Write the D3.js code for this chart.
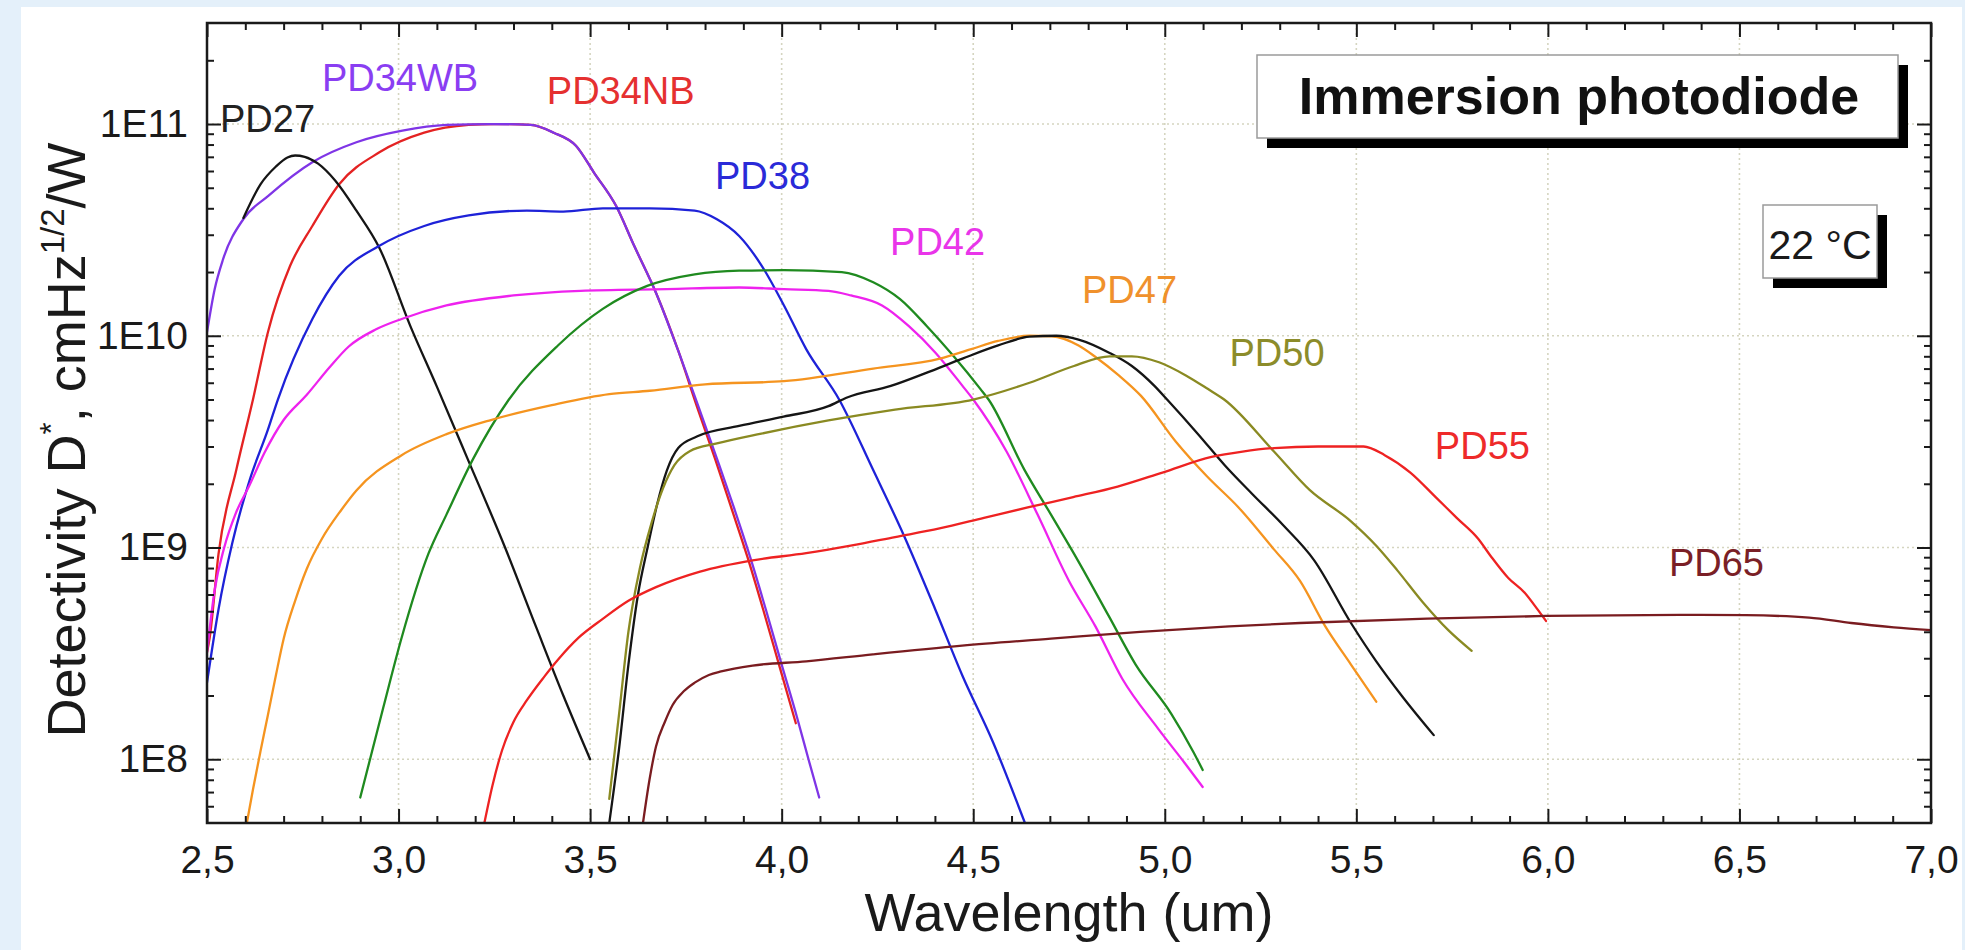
<!DOCTYPE html>
<html><head><meta charset="utf-8">
<script src="https://cdn.jsdelivr.net/npm/d3@7"></script>
<style>
html,body{margin:0;padding:0;background:#e4f0fa;}
svg{display:block;}
text{font-family:"Liberation Sans",Arial,Helvetica,sans-serif;}
</style></head><body>
<svg id="chart" width="1965" height="950"></svg>
<script>
// ---------------- DATA ----------------
const xTickValues = [2.5, 3.0, 3.5, 4.0, 4.5, 5.0, 5.5, 6.0, 6.5, 7.0];
const xTickLabels = ["2,5","3,0","3,5","4,0","4,5","5,0","5,5","6,0","6,5","7,0"];
const yTickValues = [1e8, 1e9, 1e10, 1e11];
const yTickLabels = ["1E8","1E9","1E10","1E11"];
const xDomain = [2.5, 7.0];
const yDomain = [5e7, 3e11];

// [wavelength um, D* cmHz^1/2/W]
const pd27 = [[2.595,3.6e10],[2.64,5.2e10],[2.68,6.3e10],[2.71,6.95e10],[2.73,7.1e10],[2.755,7.0e10],[2.79,6.5e10],[2.835,5.4e10],[2.89,3.9e10],[2.95,2.6e10],[3.03,1.12e10],[3.10,5.75e9],[3.18,2.63e9],[3.278,1.0e9],[3.36,4.17e8],[3.43,2.0e8],[3.50,1.0e8]];
const pd34wb = [[2.50,1.04e10],[2.52,1.66e10],[2.542,2.3e10],[2.595,3.56e10],[2.66,4.58e10],[2.775,6.6e10],[2.89,8.2e10],[3.01,9.3e10],[3.125,9.9e10],[3.24,1.0e11],[3.345,9.9e10],[3.405,9.1e10],[3.463,7.9e10],[3.51,5.9e10],[3.568,4.1e10],[3.615,2.66e10],[3.673,1.58e10],[3.73,8.5e9],[3.784,4.57e9],[3.831,2.63e9],[3.875,1.55e9],[3.917,9.1e8],[3.96,5.0e8],[4.0,2.8e8],[4.04,1.58e8],[4.07,1.0e8],[4.098,6.6e7]];
const pd34nb = [[2.50,3.2e8],[2.507,3.75e8],[2.53,9.3e8],[2.577,2.35e9],[2.62,5.0e9],[2.659,1.04e10],[2.717,2.14e10],[2.775,3.3e10],[2.845,5.2e10],[2.95,7.35e10],[3.067,9.1e10],[3.183,9.9e10],[3.25,1.0e11],[3.345,9.9e10],[3.405,9.1e10],[3.463,7.9e10],[3.51,5.9e10],[3.568,4.1e10],[3.615,2.66e10],[3.673,1.58e10],[3.73,8.5e9],[3.78,4.57e9],[3.826,2.63e9],[3.868,1.55e9],[3.91,9.1e8],[3.953,5.0e8],[3.993,2.8e8],[4.037,1.48e8]];
const pd38 = [[2.50,2.3e8],[2.53,5.1e8],[2.566,1.05e9],[2.612,2.1e9],[2.659,3.6e9],[2.685,5.0e9],[2.775,1.2e10],[2.845,1.92e10],[2.95,2.66e10],[3.067,3.3e10],[3.183,3.7e10],[3.335,3.9e10],[3.43,3.86e10],[3.533,4.0e10],[3.656,4.0e10],[3.773,3.9e10],[3.831,3.55e10],[3.889,2.96e10],[3.948,2.14e10],[4.006,1.39e10],[4.064,8.65e9],[4.15,5.0e9],[4.238,2.34e9],[4.319,1.14e9],[4.401,5.1e8],[4.471,2.5e8],[4.552,1.2e8],[4.635,5.0e7]];
const pd42 = [[2.50,3.2e8],[2.52,6.3e8],[2.545,1.0e9],[2.575,1.45e9],[2.61,1.95e9],[2.65,2.8e9],[2.70,4.0e9],[2.76,5.25e9],[2.82,7.1e9],[2.87,8.9e9],[2.94,1.07e10],[3.008,1.2e10],[3.125,1.39e10],[3.30,1.55e10],[3.475,1.63e10],[3.70,1.66e10],[3.889,1.69e10],[4.006,1.66e10],[4.122,1.63e10],[4.181,1.55e10],[4.262,1.39e10],[4.332,1.11e10],[4.402,8.3e9],[4.472,5.8e9],[4.50,5.0e9],[4.587,2.84e9],[4.668,1.43e9],[4.75,6.95e8],[4.819,4.24e8],[4.889,2.4e8],[4.982,1.4e8],[5.052,9.6e7],[5.099,7.4e7]];
const pdGreen = [[2.90,6.6e7],[2.96,1.75e8],[3.008,3.75e8],[3.078,9.35e8],[3.125,1.43e9],[3.195,2.63e9],[3.288,5.0e9],[3.416,9.0e9],[3.533,1.34e10],[3.649,1.72e10],[3.773,1.95e10],[3.889,2.03e10],[4.006,2.04e10],[4.157,2.0e10],[4.239,1.79e10],[4.309,1.49e10],[4.379,1.11e10],[4.449,8.0e9],[4.519,5.6e9],[4.54,5.0e9],[4.633,2.34e9],[4.703,1.43e9],[4.773,8.7e8],[4.854,4.74e8],[4.924,2.8e8],[5.017,1.64e8],[5.075,1.08e8],[5.099,8.9e7]];
const pd47 = [[2.604,5.0e7],[2.62,7.2e7],[2.64,1.1e8],[2.659,1.62e8],[2.68,2.5e8],[2.70,3.7e8],[2.73,5.6e8],[2.76,7.9e8],[2.80,1.1e9],[2.85,1.5e9],[2.89,1.86e9],[3.008,2.73e9],[3.125,3.43e9],[3.241,4.0e9],[3.40,4.7e9],[3.55,5.3e9],[3.656,5.5e9],[3.80,5.9e9],[4.006,6.1e9],[4.239,7.0e9],[4.413,7.8e9],[4.495,8.65e9],[4.565,9.45e9],[4.647,1.0e10],[4.705,9.95e9],[4.775,9.0e9],[4.821,7.9e9],[4.88,6.5e9],[4.938,5.2e9],[5.029,3.16e9],[5.11,2.17e9],[5.192,1.55e9],[5.285,9.8e8],[5.353,6.95e8],[5.419,4.24e8],[5.486,2.8e8],[5.552,1.87e8]];
const pdBlack2 = [[3.55,5.0e7],[3.575,1.1e8],[3.60,2.8e8],[3.625,6.0e8],[3.65,1.0e9],[3.675,1.6e9],[3.70,2.3e9],[3.73,2.95e9],[3.78,3.35e9],[3.889,3.75e9],[4.005,4.15e9],[4.122,4.65e9],[4.169,5.1e9],[4.285,5.8e9],[4.379,6.7e9],[4.472,7.8e9],[4.565,9.0e9],[4.647,9.9e9],[4.717,1.0e10],[4.775,9.6e9],[4.856,8.3e9],[4.914,7.2e9],[4.973,5.8e9],[5.006,5.0e9],[5.087,3.43e9],[5.157,2.44e9],[5.227,1.8e9],[5.308,1.28e9],[5.39,8.7e8],[5.486,4.4e8],[5.552,2.9e8],[5.619,1.99e8],[5.702,1.3e8]];
const pd50 = [[3.55,6.5e7],[3.575,1.6e8],[3.60,4.0e8],[3.63,8.0e8],[3.66,1.3e9],[3.69,1.9e9],[3.72,2.45e9],[3.76,2.85e9],[3.831,3.1e9],[3.947,3.45e9],[4.122,3.98e9],[4.296,4.48e9],[4.50,5.0e9],[4.647,6.0e9],[4.763,7.2e9],[4.856,8.0e9],[4.914,8.0e9],[4.985,7.5e9],[5.055,6.5e9],[5.113,5.6e9],[5.155,5.0e9],[5.285,2.84e9],[5.378,1.87e9],[5.486,1.33e9],[5.552,1.02e9],[5.607,7.8e8],[5.674,5.5e8],[5.74,4.07e8],[5.801,3.25e8]];
const pd55 = [[3.224,5.0e7],[3.245,7.5e7],[3.27,1.1e8],[3.30,1.5e8],[3.335,1.9e8],[3.38,2.45e8],[3.416,2.95e8],[3.47,3.75e8],[3.533,4.6e8],[3.60,5.6e8],[3.672,6.5e8],[3.787,7.7e8],[3.924,8.7e8],[4.064,9.4e8],[4.18,1.02e9],[4.296,1.12e9],[4.412,1.23e9],[4.528,1.38e9],[4.645,1.55e9],[4.761,1.73e9],[4.877,1.94e9],[4.994,2.26e9],[5.122,2.68e9],[5.203,2.84e9],[5.285,2.95e9],[5.40,3.0e9],[5.519,3.0e9],[5.574,2.73e9],[5.641,2.26e9],[5.707,1.73e9],[5.762,1.38e9],[5.818,1.1e9],[5.851,9.1e8],[5.896,7.2e8],[5.94,6.1e8],[5.973,5.1e8],[5.995,4.5e8]];
const pd65 = [[3.638,5.0e7],[3.655,8.0e7],[3.672,1.15e8],[3.695,1.5e8],[3.715,1.8e8],[3.745,2.1e8],[3.773,2.3e8],[3.81,2.5e8],[3.842,2.6e8],[3.924,2.77e8],[4.064,2.9e8],[4.238,3.13e8],[4.471,3.44e8],[4.703,3.71e8],[4.936,4.0e8],[5.168,4.24e8],[5.353,4.4e8],[5.685,4.61e8],[5.995,4.75e8],[6.35,4.81e8],[6.516,4.79e8],[6.682,4.67e8],[6.792,4.4e8],[6.903,4.2e8],[7.0,4.07e8]];

const seriesData = [pd34nb, pd34wb, pd27, pd38, pd42, pdGreen, pd47, pdBlack2, pd50, pd55, pd65];
const seriesColors = ["#e42222","#7f35e6","#151515","#1e22d8","#ee22ee","#1f8a1f","#f5941f","#151515","#8a8a22","#ee2222","#7a1c20"];

const labelNames = ["PD27","PD34WB","PD34NB","PD38","PD42","PD47","PD50","PD55","PD65"];
const labelAnchors = [[2.534,9.2e10],[2.80,1.43e11],[3.387,1.24e11],[3.826,4.93e10],[4.283,2.4e10],[4.784,1.43e10],[5.169,7.2e9],[5.705,2.61e9],[6.316,7.33e8]];
const labelColors = ["#222222","#8a3ef2","#e53030","#2a2ad8","#e935e9","#f0912c","#8c8c2a","#ee2a2a","#7a1f26"];

const titleText = "Immersion photodiode";
const tempText = "22 °C";

// ---------------- LAYOUT ----------------
const X0 = 207, X1 = 1931, Y0 = 23, Y1 = 823;
const svg = d3.select("#chart");
svg.append("rect").attr("x",21).attr("y",7).attr("width",1941).attr("height",943).attr("fill","#ffffff");

const x = d3.scaleLinear().domain(xDomain).range([X0, X1]);
const y = d3.scaleLog().domain(yDomain).range([Y1, Y0]);

const minorX = d3.range(26, 70).map(v => v / 10).filter(v => Math.abs(v * 2 - Math.round(v * 2)) > 1e-6);
const minorY = [];
for (let n = 7; n <= 11; n++) for (let k = 2; k <= 9; k++) {
  const v = k * Math.pow(10, n);
  if (v > yDomain[0] * 1.0001 && v < yDomain[1] * 0.9999) minorY.push(v);
}

// grid
const grid = svg.append("g").attr("stroke","#d5d5c0").attr("stroke-width",1.6).attr("stroke-dasharray","2,3");
grid.selectAll("line.gx").data(xTickValues.slice(1, -1)).join("line")
  .attr("x1", d => x(d)).attr("x2", d => x(d)).attr("y1", Y0).attr("y2", Y1);
grid.selectAll("line.gy").data(yTickValues).join("line")
  .attr("x1", X0).attr("x2", X1).attr("y1", d => y(d)).attr("y2", d => y(d));

// curves
svg.append("clipPath").attr("id","clip").append("rect").attr("x",X0).attr("y",Y0).attr("width",X1-X0).attr("height",Y1-Y0);
const line = d3.line().x(d => x(d[0])).y(d => y(d[1])).curve(d3.curveMonotoneX);
svg.append("g").attr("clip-path","url(#clip)")
  .selectAll("path").data(seriesData).join("path")
  .attr("d", line).attr("fill","none")
  .attr("stroke", (d, i) => seriesColors[i]).attr("stroke-width", 2.3)
  .attr("stroke-linejoin","round").attr("stroke-linecap","round");

// axes
function styleAxis(g) {
  g.select(".domain").remove();
  g.selectAll(".tick line").attr("stroke","#1a1a1a").attr("stroke-width",2);
  g.attr("font-family",'"Liberation Sans",Arial,Helvetica,sans-serif').attr("font-size",39);
  g.selectAll(".tick text").attr("fill","#1a1a1a");
}
svg.append("g").attr("transform",`translate(0,${Y1})`).call(d3.axisBottom(x).tickValues(minorX).tickSize(-7).tickFormat("")).call(styleAxis);
svg.append("g").attr("transform",`translate(0,${Y1})`).call(d3.axisBottom(x).tickValues(xTickValues).tickSize(-14).tickPadding(22).tickFormat((d, i) => xTickLabels[i])).call(styleAxis);
svg.append("g").attr("transform",`translate(0,${Y0})`).call(d3.axisTop(x).tickValues(minorX).tickSize(-7).tickFormat("")).call(styleAxis);
svg.append("g").attr("transform",`translate(0,${Y0})`).call(d3.axisTop(x).tickValues(xTickValues).tickSize(-14).tickFormat("")).call(styleAxis);
svg.append("g").attr("transform",`translate(${X0},0)`).call(d3.axisLeft(y).tickValues(minorY).tickSize(-7).tickFormat("")).call(styleAxis);
svg.append("g").attr("transform",`translate(${X0},0)`).call(d3.axisLeft(y).tickValues(yTickValues).tickSize(-14).tickPadding(19).tickFormat((d, i) => yTickLabels[i])).call(styleAxis);
svg.append("g").attr("transform",`translate(${X1},0)`).call(d3.axisRight(y).tickValues(minorY).tickSize(-7).tickFormat("")).call(styleAxis);
svg.append("g").attr("transform",`translate(${X1},0)`).call(d3.axisRight(y).tickValues(yTickValues).tickSize(-14).tickFormat("")).call(styleAxis);

// frame
svg.append("rect").attr("x",X0).attr("y",Y0).attr("width",X1-X0).attr("height",Y1-Y0)
  .attr("fill","none").attr("stroke","#1a1a1a").attr("stroke-width",2.5);

// curve labels
svg.append("g").selectAll("text").data(labelNames).join("text")
  .attr("x", (d, i) => x(labelAnchors[i][0])).attr("y", (d, i) => y(labelAnchors[i][1]))
  .attr("font-size", 38).attr("fill", (d, i) => labelColors[i]).text(d => d);

// axis titles
svg.append("text").attr("x", (X0 + X1) / 2).attr("y", 931).attr("text-anchor","middle")
  .attr("font-size", 54).attr("fill","#1a1a1a").text("Wavelength (um)");
const yt = svg.append("text").attr("transform","translate(85,440) rotate(-90)").attr("text-anchor","middle")
  .attr("font-size", 54).attr("fill","#1a1a1a");
yt.append("tspan").text("Detectivity D");
yt.append("tspan").attr("dy",-23).attr("font-size",31).text("*");
yt.append("tspan").attr("dy",23).text(", cmHz");
yt.append("tspan").attr("dy",-21).attr("font-size",33).text("1/2");
yt.append("tspan").attr("dy",21).text("/W");

// title box
function shadowBox(bx, by, bw, bh) {
  svg.append("rect").attr("x", bx + 10).attr("y", by + 10).attr("width", bw).attr("height", bh).attr("fill","#000");
  svg.append("rect").attr("x", bx).attr("y", by).attr("width", bw).attr("height", bh).attr("fill","#fff").attr("stroke","#9a9a9a").attr("stroke-width",1.5);
}
shadowBox(1257, 55, 641, 83);
svg.append("text").attr("x", 1579).attr("y", 114).attr("text-anchor","middle").attr("font-size",52)
  .attr("font-weight","bold").attr("fill","#111").text(titleText);
shadowBox(1763, 205, 114, 73);
svg.append("text").attr("x", 1820).attr("y", 259).attr("text-anchor","middle").attr("font-size",41)
  .attr("fill","#1a1a1a").text(tempText);
</script>
</body></html>
